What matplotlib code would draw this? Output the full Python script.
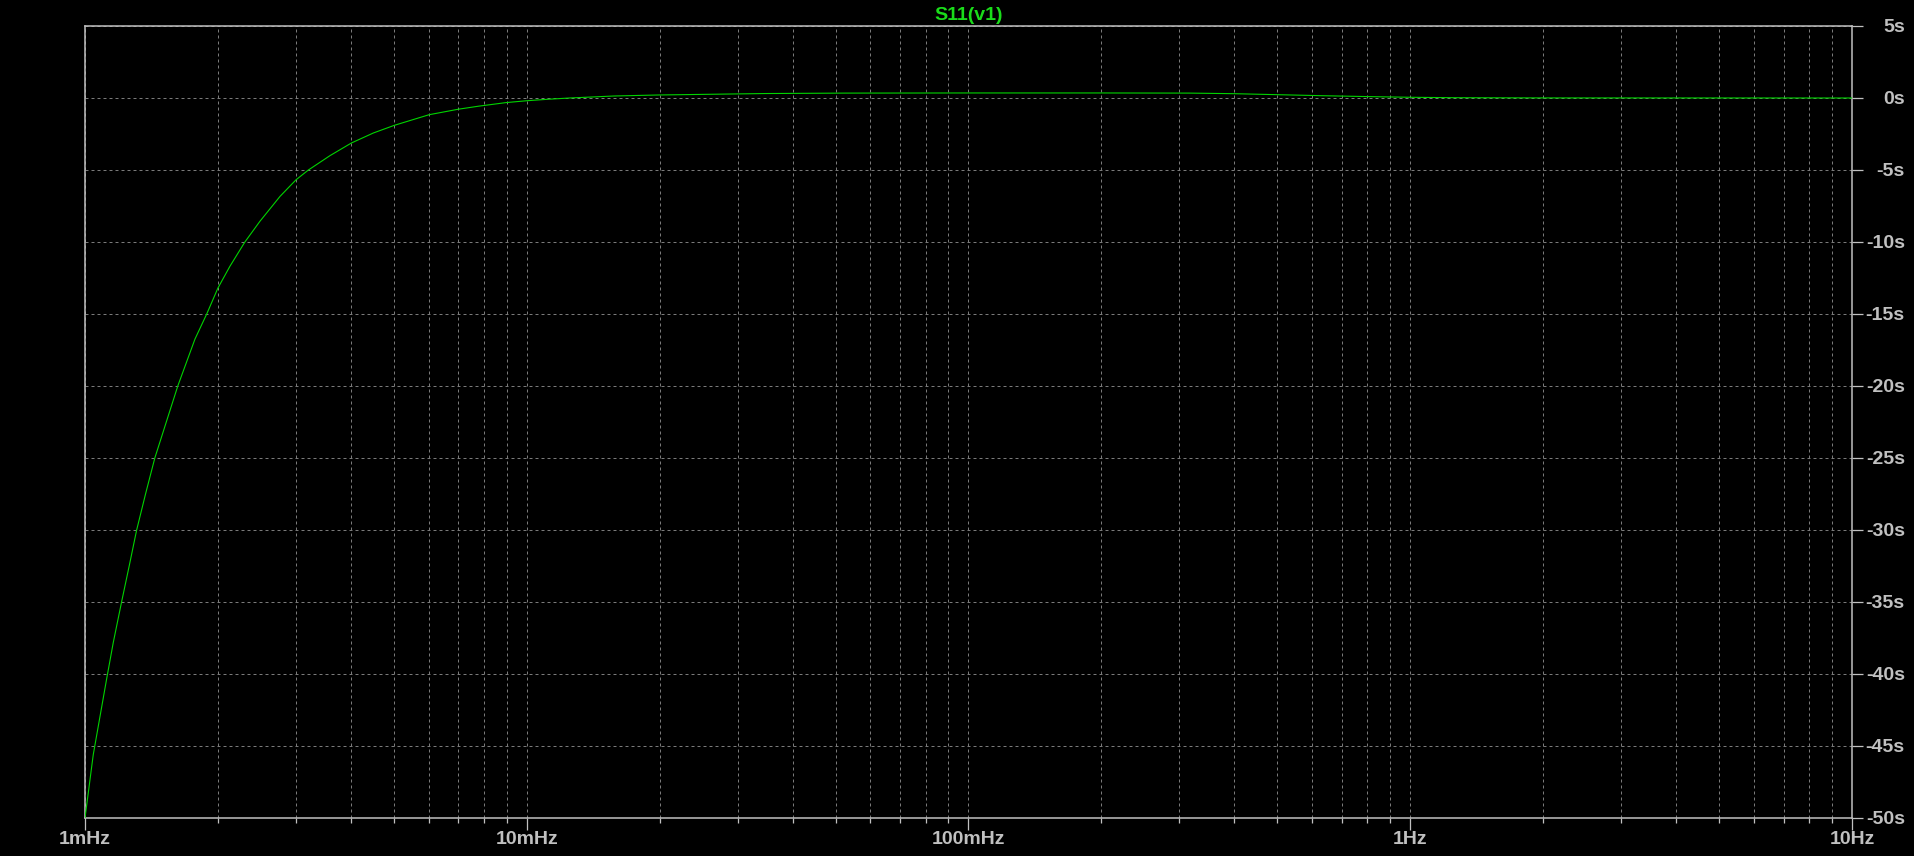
import matplotlib
matplotlib.use("Agg")
import matplotlib.pyplot as plt
from matplotlib import ticker

# --- data: frequency (Hz) vs S11 group delay (s) ---
freq_hz = [0.001, 0.001044, 0.00112, 0.001159, 0.00121, 0.001259, 0.001309,
           0.001371, 0.001439, 0.001524, 0.001622, 0.001774, 0.001886,
           0.002, 0.002128, 0.002301, 0.002489, 0.002764, 0.003004,
           0.003204, 0.003587, 0.004009, 0.004495, 0.005012, 0.006012,
           0.006998, 0.007773, 0.008974, 0.010, 0.01114, 0.0125, 0.01406,
           0.01578, 0.01995, 0.0263, 0.0347, 0.0525, 0.1, 0.2, 0.316, 0.398,
           0.501, 0.631, 0.794, 1.0, 1.26, 2.0, 10.0]
s11_delay = [-50.0, -45.6, -40.3, -37.8, -35.0, -32.5, -30.0,
             -27.5, -25.0, -22.6, -20.0, -16.74, -15.0,
             -13.19, -11.69, -10.0, -8.56, -6.83, -5.68,
             -5.0, -4.0, -3.125, -2.43, -1.9, -1.16,
             -0.78, -0.57, -0.32, -0.19, -0.09, 0.0, 0.07,
             0.14, 0.21, 0.26, 0.31, 0.34, 0.35, 0.35, 0.34, 0.30,
             0.23, 0.16, 0.10, 0.05, 0.02, 0.005, 0.0]

x_ticks = [0.001, 0.01, 0.1, 1, 10]
x_labels = ["1mHz", "10mHz", "100mHz", "1Hz", "10Hz"]
y_ticks = [5, 0, -5, -10, -15, -20, -25, -30, -35, -40, -45, -50]
y_labels = ["5s", "0s", "-5s", "-10s", "-15s", "-20s", "-25s", "-30s",
            "-35s", "-40s", "-45s", "-50s"]

FG = "#c0c0c0"
GRID = "#7a7a7a"
TRACE = "#00d400"

plt.rcParams["font.family"] = ["Liberation Sans", "DejaVu Sans"]

fig = plt.figure(figsize=(19.15, 8.56), dpi=100, facecolor="black")
ax = fig.add_axes([85 / 1915, 38 / 856, 1767 / 1915, 792 / 856])
ax.set_facecolor("black")

ax.semilogx(freq_hz, s11_delay, color=TRACE, lw=0.8, zorder=3)

ax.set_xlim(0.001, 10)
ax.set_ylim(-50, 5)

# x axis: decades labelled, 2..9 minor ticks
ax.xaxis.set_major_locator(ticker.FixedLocator(x_ticks))
ax.xaxis.set_major_formatter(ticker.FixedFormatter(x_labels))
ax.xaxis.set_minor_locator(ticker.LogLocator(base=10, subs=range(2, 10)))
ax.xaxis.set_minor_formatter(ticker.NullFormatter())

# y axis: ticks and labels on the right
ax.yaxis.tick_right()
ax.set_yticks(y_ticks)
ax.set_yticklabels(y_labels)

ax.tick_params(axis="x", which="major", direction="out", length=8.4,
               width=0.9, color=FG, labelcolor=FG, labelsize=14, pad=1)
ax.tick_params(axis="x", which="minor", direction="out", length=3.6,
               width=0.9, color=FG)
ax.tick_params(axis="y", which="both", direction="out", length=8,
               width=0.9, color=FG, labelcolor=FG, labelsize=14, pad=30,
               left=False, right=True)
for lbl in ax.get_xticklabels() + ax.get_yticklabels():
    lbl.set_fontweight("bold")
for lbl in ax.get_yticklabels():
    lbl.set_horizontalalignment("right")

for sp in ax.spines.values():
    sp.set_color(FG)
    sp.set_linewidth(1.1)

ax.grid(True, which="both", axis="x", color=GRID, lw=0.72, linestyle=(0, (3, 3)))
ax.grid(True, which="major", axis="y", color=GRID, lw=0.72, linestyle=(0, (3, 3)))

ax.set_title("S11(v1)", color="#1adc1a", fontsize=14, fontweight="bold", pad=4)

fig.savefig("out.png", dpi=100, facecolor="black")
